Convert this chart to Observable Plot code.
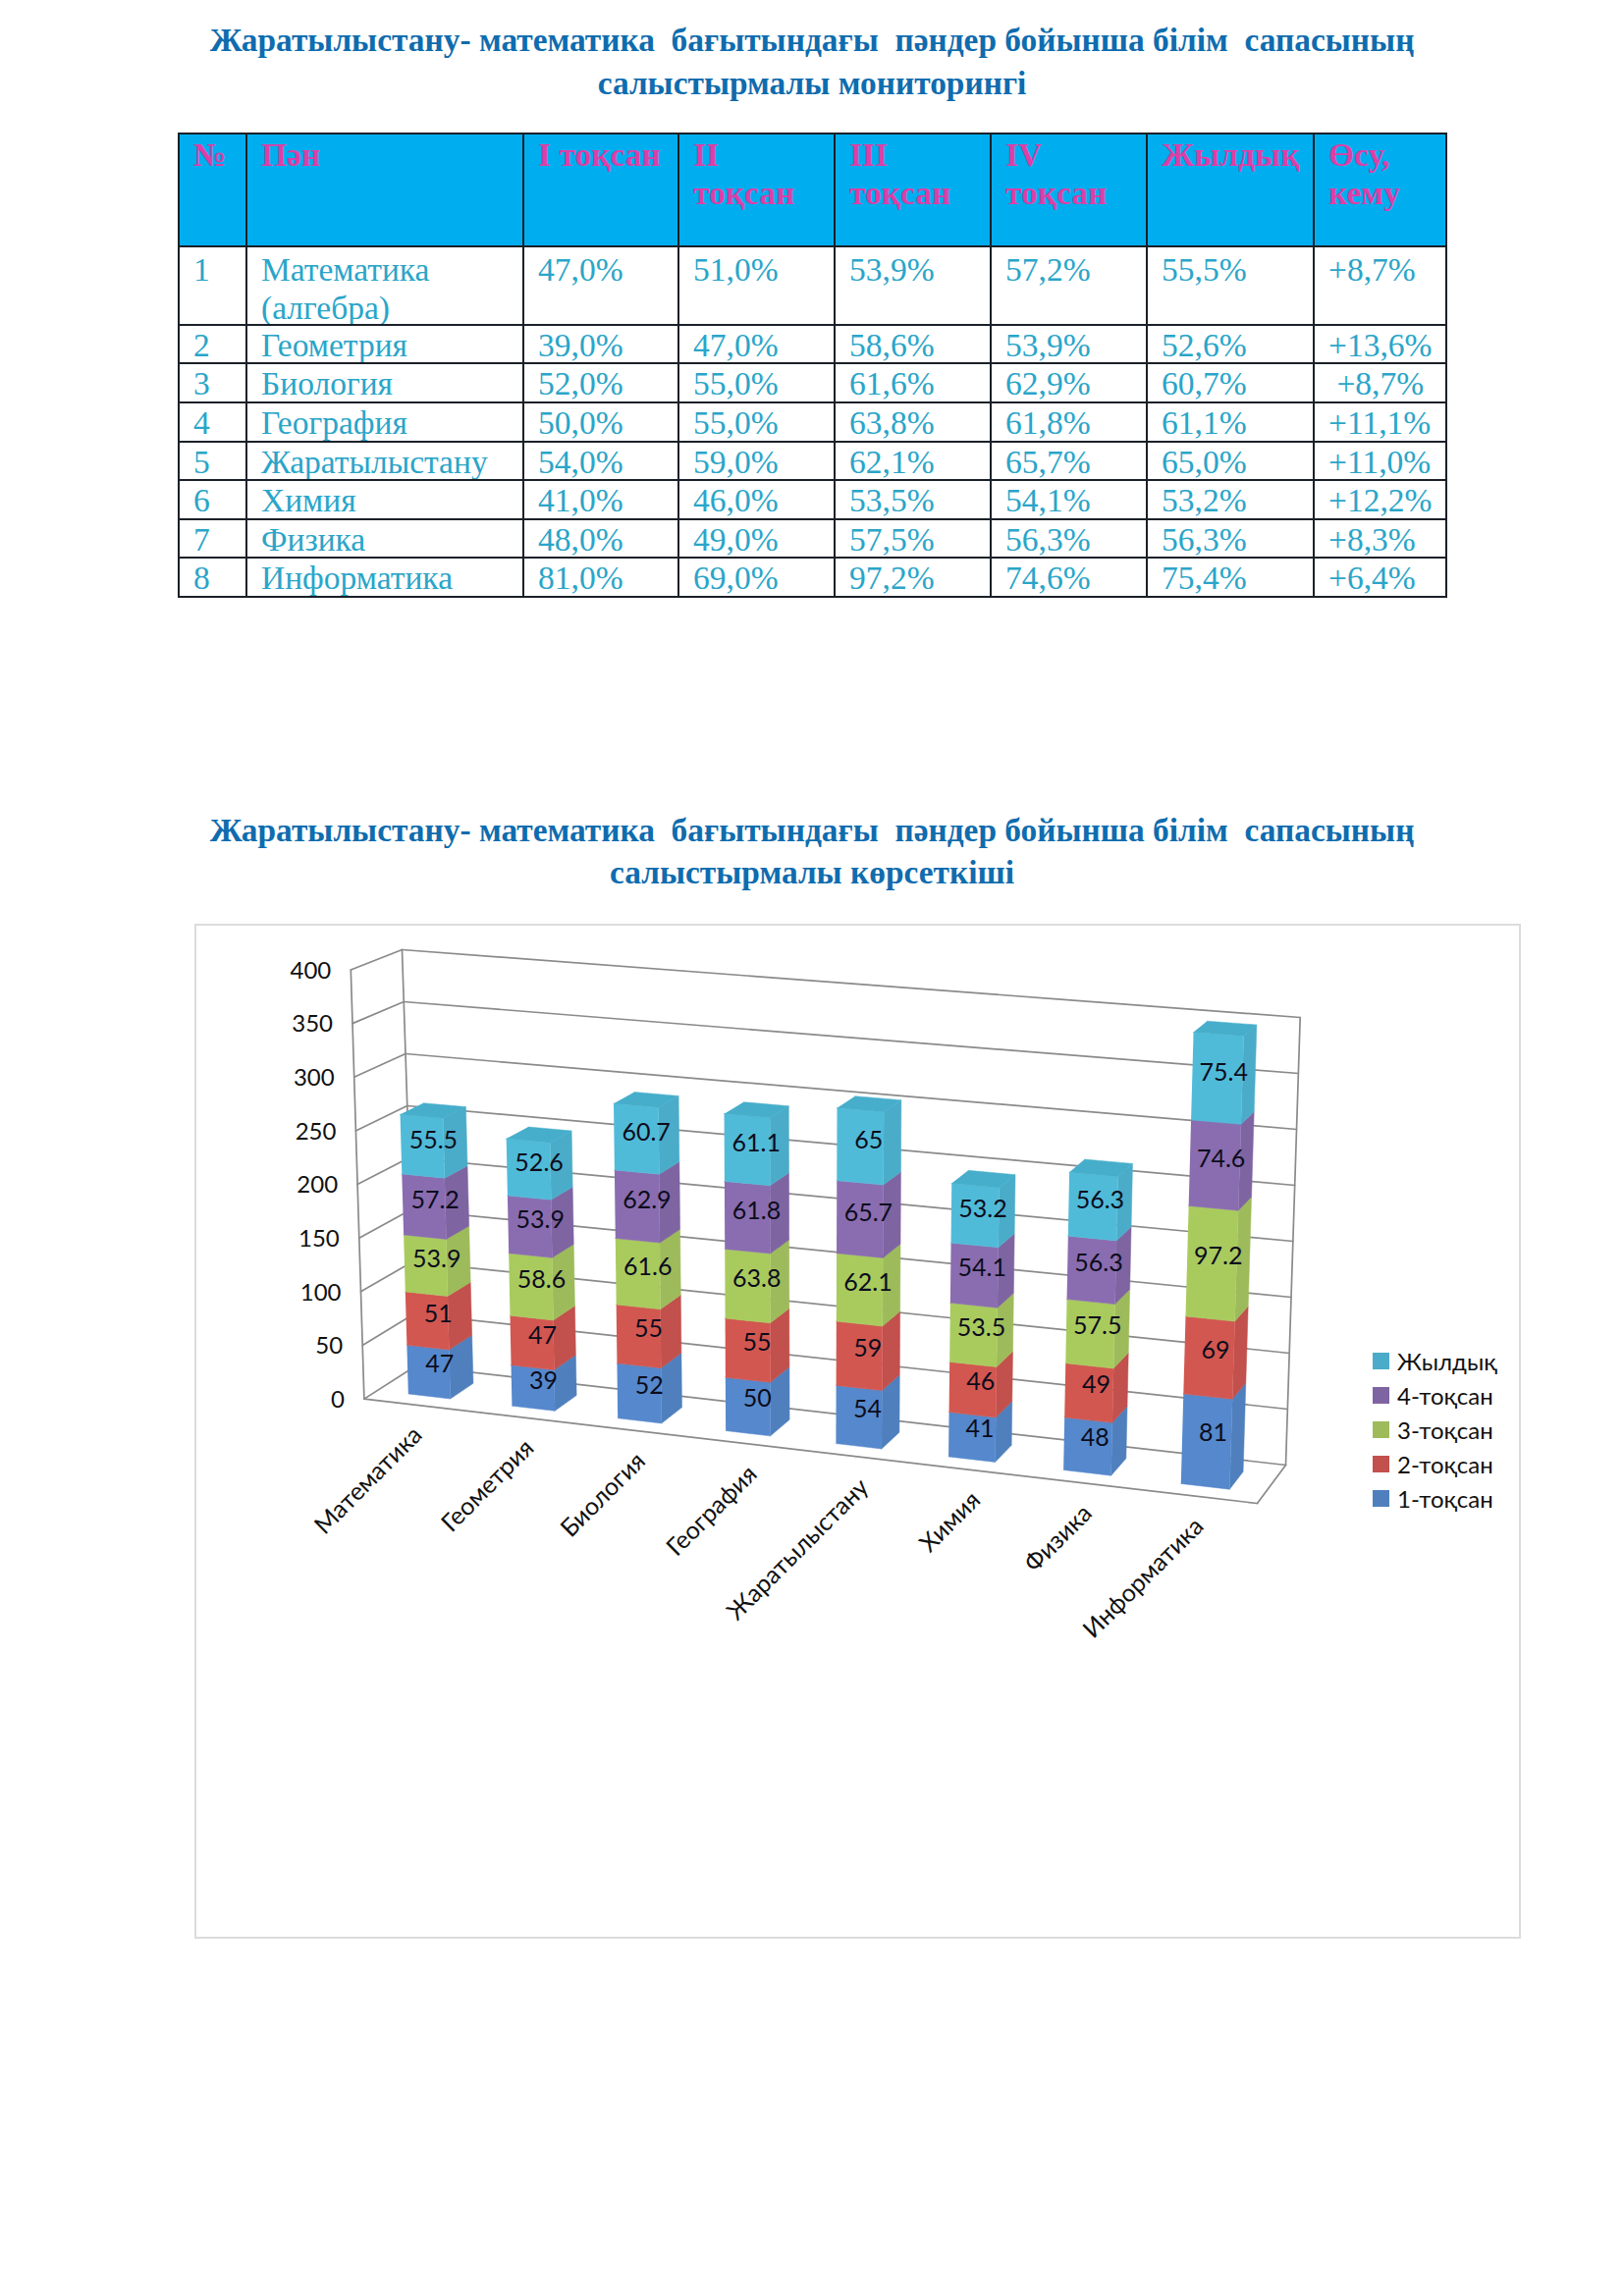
<!DOCTYPE html>
<html><head><meta charset="utf-8">
<script src="https://cdn.jsdelivr.net/npm/d3@7"></script>
<script src="https://cdn.jsdelivr.net/npm/@observablehq/plot@0.6"></script>
<style>
html,body{margin:0;padding:0;background:#fff}
#page{position:relative;width:1654px;height:2339px;overflow:hidden}
.title{position:absolute;left:0;width:1654px;text-align:center;font:bold 33.4px/45px "Liberation Serif",serif;color:#0f6cae;white-space:pre}
table{position:absolute;left:181px;top:135px;width:1291px;border-collapse:collapse;table-layout:fixed;font:33.5px/34px "Liberation Serif",serif;color:#2aa5c9}
td,th{border:2px solid #1a2028;padding:3px 0 0 14px;vertical-align:top;text-align:left;white-space:pre-line;overflow:hidden}
th{background:#00aeef;color:#dc3fa6;font-weight:bold;line-height:39px;padding-top:1px}
tr.two td{line-height:38px;padding-top:3.5px}
tr.two td .nm{line-height:39px;height:75px;margin-top:-.5px}
#frame{position:absolute;left:198px;top:941px;width:1347px;height:1030px;border:2px solid #dcdcdc}
#frame svg{display:block;position:absolute;left:0;top:0}
#legend{position:absolute;left:1398px;top:1369.5px;font:24px/35px Lato,sans-serif;color:#111}
#legend div{height:34.8px;white-space:pre;display:flex;align-items:center}
#legend i{display:inline-block;width:17px;height:17px;margin-right:8px}
</style></head><body>
<div id="page">
<div class="title" style="top:18px">Жаратылыстану- математика  бағытындағы  пәндер бойынша білім  сапасының</div>
<div class="title" style="top:62px">салыстырмалы мониторингі</div>
<table id="tbl"></table>
<div class="title" style="top:823px">Жаратылыстану- математика  бағытындағы  пәндер бойынша білім  сапасының</div>
<div class="title" style="top:866px">салыстырмалы көрсеткіші</div>
<div id="frame"></div>
<div id="legend"></div>
</div>
<script>
const categories = ["Математика","Геометрия","Биология","География","Жаратылыстану","Химия","Физика","Информатика"];
const tableNames = ["Математика\n(алгебра)","Геометрия","Биология","География","Жаратылыстану","Химия","Физика","Информатика"];
const seriesNames = ["1-тоқсан","2-тоқсан","3-тоқсан","4-тоқсан","Жылдық"];
const q1 = [47,39,52,50,54,41,48,81];
const q2 = [51,47,55,55,59,46,49,69];
const q3 = [53.9,58.6,61.6,63.8,62.1,53.5,57.5,97.2];
const q4 = [57.2,53.9,62.9,61.8,65.7,54.1,56.3,74.6];
const yearly = [55.5,52.6,60.7,61.1,65,53.2,56.3,75.4];
const growth = ["+8,7%","+13,6%"," +8,7%","+11,1%","+11,0%","+12,2%","+8,3%","+6,4%"];
const headers = ["№","Пән","I тоқсан","II\nтоқсан","III\nтоқсан","IV\nтоқсан","Жылдық","Өсу,\nкему"];
const yTicks = [0,50,100,150,200,250,300,350,400];
const frontColors = ["#5588cc","#d25750","#a9cb5e","#8a6db0","#50bbd8"];
const sideColors = ["#4f80bd","#c2504c","#9dbb5a","#7f64a2","#4aacc8"];
const topColor = "#46aecb";
const columnWidths = [69,282,158,159,159,159,170,135];
const rowHeights = [115,80,39,40,40,39,40,39,40];

const allSeries = [q1,q2,q3,q4,yearly];

// table
const fmt = v => v.toFixed(1).replace(".",",")+"%";
const tbl = document.getElementById("tbl");
tbl.innerHTML = "<colgroup>"+columnWidths.map(w=>`<col style="width:${w}px">`).join("")+"</colgroup>"
 + `<tr style="height:${rowHeights[0]}px">`+headers.map(h=>`<th>${h}</th>`).join("")+"</tr>"
 + categories.map((c,i)=>`<tr class="${i===0?"two":""}" style="height:${rowHeights[i+1]}px"><td>${i+1}</td><td><div class="nm">${tableNames[i]}</div></td>`
   + allSeries.map(s=>`<td>${fmt(s[i])}</td>`).join("")
   + `<td style="white-space:pre">${growth[i]}</td></tr>`).join("");

// legend
document.getElementById("legend").innerHTML = seriesNames.map((n,i)=>({n,c:sideColors[i]})).reverse()
  .map(d=>`<div><i style="background:${d.c}"></i>${d.n}</div>`).join("");

// 3D box of the chart, corners [bottom/top][front/back][left/right]
const box = {
  b0l:[370.4,1424.6], b0r:[1280,1531], b1l:[423,1391], b1r:[1309,1492],
  t0l:[356.8,987.5],  t0r:[1296,1061], t1l:[409,967],  t1r:[1323.7,1036]
};
const yMax = 400;
const warpK = (u,k) => u*k/(1-u+u*k);
const lerp = (a,b,t)=>[a[0]+(b[0]-a[0])*t, a[1]+(b[1]-a[1])*t];
function P(u,value,w,flat){
  const s = flat ? u : warpK(u,.92), v = value/yMax;
  const b = lerp(lerp(box.b0l,box.b0r,s), lerp(box.b1l,box.b1r,s), w);
  const t = lerp(lerp(box.t0l,box.t0r,s), lerp(box.t1l,box.t1r,s), w);
  return lerp(b,t,v);
}
// the stacked columns rise very slightly faster towards the top than the walls
const B = (u,value,w) => P(u,yMax*warpK(value/yMax,.97),w);
const n = categories.length, halfW = 0.0255, uShift = 0.0005, wFront = .26, wBack = .72;
const uc = i => (i+.5)/n + uShift;

const faces = [], labels = [];
let id = 0;
function poly(key, pts){ id++; pts.forEach(p=>faces.push({id, key, x:p[0], y:p[1]})); }
categories.forEach((c,i)=>{
  let base = 0;
  const L = uc(i)-halfW, R = uc(i)+halfW;
  allSeries.forEach((s,k)=>{
    const top = base + s[i];
    poly("s"+k,[B(R,base,wFront),B(R,base,wBack),B(R,top,wBack),B(R,top,wFront)]);
    poly("f"+k,[B(L,base,wFront),B(R,base,wFront),B(R,top,wFront),B(L,top,wFront)]);
    const m = B(uc(i),(base+top)/2,.48);
    labels.push({x:m[0],y:m[1],t:String(s[i])});
    base = top;
  });
  poly("top",[B(L,base,wFront),B(R,base,wFront),B(R,base,wBack),B(L,base,wBack)]);
});

const lines = []; let lid = 0;
function seg(a,b){ lid++; lines.push({id:lid,x:a[0],y:a[1]},{id:lid,x:b[0],y:b[1]}); }
yTicks.forEach(t=>{ seg(P(0,t,1),P(1,t,1)); seg(P(0,t,0),P(0,t,1)); });
seg(P(0,0,0),P(1,0,0)); seg(P(1,0,0),P(1,0,1));
seg(P(0,0,0),P(0,yMax,0)); seg(P(0,0,1),P(0,yMax,1)); seg(P(1,0,1),P(1,yMax,1));

const tickLabels = yTicks.map(t=>{const p=P(0,t,0);return {x:p[0],y:p[1],t:String(t)};});
const catLabels = categories.map((c,i)=>{const p=P((i+.5)/n,0,0,true);return {x:p[0],y:p[1],t:c};});

const keys = [...frontColors.map((_,k)=>"f"+k),...sideColors.map((_,k)=>"s"+k),"top"];
const cols = [...frontColors,...sideColors,topColor];
const W=1347,H=1030,X0=200,Y0=943;
const chart = Plot.plot({
  width:W,height:H,margin:0,
  style:{background:"transparent",fontFamily:"Lato,sans-serif",overflow:"visible"},
  x:{axis:null,domain:[X0,X0+W],range:[0,W]},
  y:{axis:null,domain:[Y0,Y0+H],range:[0,H]},
  color:{type:"ordinal",domain:keys,range:cols},
  marks:[
    Plot.line(lines,{x:"x",y:"y",z:"id",stroke:"#8a8a8a",strokeWidth:1.7}),
    Plot.line(faces,{x:"x",y:"y",z:"id",fill:"key",stroke:"key",strokeWidth:.5}),
    Plot.text(labels,{x:"x",y:"y",text:"t",fontSize:25,fill:"#0c0c1c"}),
    Plot.text(tickLabels,{x:"x",y:"y",text:"t",fontSize:24,fill:"#111",textAnchor:"end",dx:-20,dy:1}),
    Plot.text(catLabels,{x:"x",y:"y",text:"t",fontSize:25,fill:"#111",textAnchor:"end",rotate:-45,dx:-2,dy:26})
  ]
});
document.getElementById("frame").appendChild(chart);
</script>
</body></html>
